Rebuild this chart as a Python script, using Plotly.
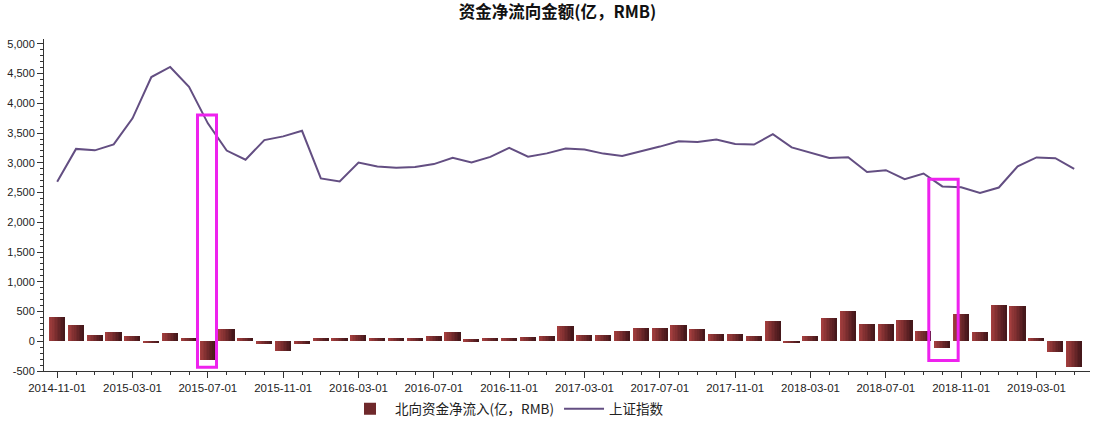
import plotly.graph_objects as go
import pandas as pd

# ---------------- data ----------------
months = [d.strftime("%Y-%m-%d") for d in pd.date_range("2014-11-01", "2019-05-01", freq="MS")]

northbound = [405, 270, 101, 152, 85, -34, 135, 51, -320, 202,
              51, -51, -168, -51, 51, 51, 101, 51, 51, 51,
              84, 152, 30, 51, 51, 67, 84, 253, 101, 101,
              168, 219, 219, 269, 202, 118, 118, 84, 337, -30,
              85, 392, 511, 290, 290, 354, 168, -112, 455, 152,
              606, 589, 51, -185, -438]

shindex = [2683, 3234, 3210, 3310, 3748, 4442, 4612, 4277, 3664, 3206,
           3053, 3383, 3445, 3539, 2738, 2688, 3004, 2938, 2917, 2930,
           2979, 3085, 3005, 3100, 3250, 3104, 3159, 3242, 3223, 3155,
           3117, 3192, 3273, 3361, 3349, 3393, 3317, 3307, 3481, 3259,
           3169, 3082, 3095, 2847, 2876, 2725, 2821, 2603, 2588, 2494,
           2585, 2941, 3091, 3078, 2899]

tick_labels = months[::4]
y_ticks = [-500, 0, 500, 1000, 1500, 2000, 2500, 3000, 3500, 4000, 4500, 5000]

bar_name = "北向资金净流入(亿，RMB)"
line_name = "上证指数"
title_text = "资金净流向金额(亿，RMB)"

highlight = ["2015-07-01", "2018-10-01"]

# ---------------- figure ----------------
x = list(range(len(months)))
fig = go.Figure()

# bars drawn as horizontal-gradient slices
W = 0.83
N = 10
c0 = (163, 62, 62)
c1 = (70, 24, 27)
for k in range(N):
    t = k / (N - 1)
    col = "rgb(%d,%d,%d)" % tuple(round(c0[i] + (c1[i] - c0[i]) * t) for i in range(3))
    fig.add_trace(go.Bar(
        x=x, y=northbound,
        width=W / N + 0.004,
        offset=-W / 2 + k * W / N,
        marker=dict(color=col, line=dict(width=0)),
        name=bar_name,
        legendgroup="nb",
        showlegend=(k == N // 2),
        hoverinfo="skip" if k != N // 2 else None,
    ))

fig.add_trace(go.Scatter(
    x=x, y=shindex, mode="lines", name=line_name,
    line=dict(color="#634e82", width=2),
))

# highlight boxes
box_specs = {
    "2015-07-01": (-0.55, 0.46, -438, 3805),
    "2018-10-01": (-0.72, 0.84, -325, 2722),
}
for m in highlight:
    i = months.index(m)
    dx0, dx1, y0, y1 = box_specs[m]
    fig.add_shape(type="rect", xref="x", yref="y",
                  x0=i + dx0, x1=i + dx1, y0=y0, y1=y1,
                  line=dict(color="#ee22ee", width=3), fillcolor="rgba(0,0,0,0)")

font_family = "Liberation Sans, Arial, Noto Sans CJK SC, sans-serif"

fig.update_layout(
    width=1115, height=428,
    margin=dict(l=44, r=25, t=39, b=57.4, autoexpand=False),
    paper_bgcolor="white", plot_bgcolor="white",
    barmode="overlay", bargap=0,
    font=dict(family=font_family, size=11, color="#222222"),
    title=dict(text="<b>" + title_text + "</b>", x=0.5, xanchor="center",
               y=1 - 12 / 428, yanchor="middle", yref="container",
               font=dict(size=16.5, color="#111111",
                         family="Noto Sans CJK SC, Liberation Sans, sans-serif")),
    legend=dict(orientation="h", x=(345 - 44) / 1046, xanchor="left",
                y=1 - 409 / 428, yanchor="middle", yref="container",
                font=dict(size=13.5, color="#222222",
                          family="Noto Sans CJK SC, Liberation Sans, sans-serif"),
                itemwidth=40, bgcolor="rgba(0,0,0,0)"),
    showlegend=True,
)

fig.update_xaxes(
    range=[-0.70, 54.84],
    tickmode="array",
    tickvals=x[::4], ticktext=tick_labels,
    ticks="outside", ticklen=6, tickwidth=1, tickcolor="#333333",
    minor=dict(tickmode="linear", tick0=0, dtick=1, ticks="outside", ticklen=3,
               tickcolor="#333333", showgrid=False),
    showline=True, linecolor="#333333", linewidth=1,
    showgrid=False, zeroline=False,
    tickfont=dict(size=11.5, color="#222222"),
)
fig.update_yaxes(
    range=[-500, 5082],
    tickmode="array",
    tickvals=y_ticks, ticktext=[f"{v:,}" for v in y_ticks],
    ticks="outside", ticklen=6, tickwidth=1, tickcolor="#333333",
    minor=dict(tickmode="linear", tick0=0, dtick=100, ticks="outside", ticklen=3,
               tickcolor="#333333", showgrid=False),
    showline=True, linecolor="#333333", linewidth=1,
    showgrid=False, zeroline=False,
    tickfont=dict(size=11, color="#222222"),
)

fig.write_html("out.html")
